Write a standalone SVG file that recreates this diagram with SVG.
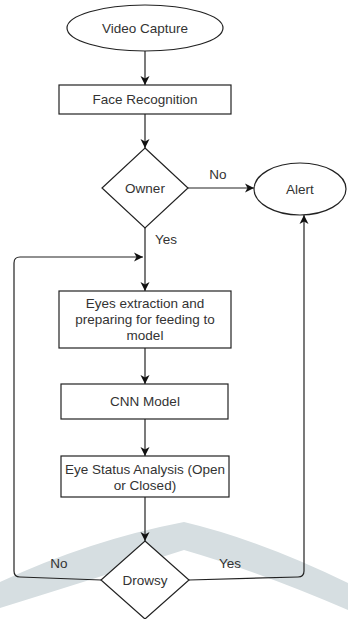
<svg xmlns="http://www.w3.org/2000/svg" width="348" height="619" viewBox="0 0 348 619">
  <defs>
    <marker id="arrow" markerWidth="10" markerHeight="10" refX="9" refY="5" orient="auto" markerUnits="userSpaceOnUse">
      <path d="M0,0.5 L9,5 L0,9.5 L2.5,5 Z" fill="#111"/>
    </marker>
    <style>
      .shape { fill: #ffffff; stroke: #222222; stroke-width: 1.2; }
      .edge { fill: none; stroke: #222222; stroke-width: 1.2; marker-end: url(#arrow); }
      text { font-family: "Liberation Sans", Arial, sans-serif; font-size: 13.5px; fill: #333333; text-anchor: middle; }
    </style>
  </defs>
  <rect width="348" height="619" fill="#ffffff"/>

  <!-- background band -->
  <path d="M0,582 Q90,540 184,522 Q260,540 348,583 L348,610 Q260,572 184,550 Q90,580 0,608 Z" fill="#d6dee1"/>

  <g id="connectors">
    <line class="edge" x1="145" y1="51" x2="145" y2="85"/>
    <line class="edge" x1="145" y1="114" x2="145" y2="148"/>
    <line class="edge" x1="188" y1="188" x2="254" y2="188"/>
    <line class="edge" x1="145" y1="228" x2="145" y2="291"/>
    <line class="edge" x1="145" y1="348" x2="145" y2="384"/>
    <line class="edge" x1="145" y1="419" x2="145" y2="456"/>
    <line class="edge" x1="145" y1="497" x2="145" y2="541"/>
    <path class="edge" d="M101,580 L20,577 Q14,577 14,571 L14,263 Q14,257 20,257 L143,257"/>
    <path class="edge" d="M189,580 L298,577 Q304,577 304,571 L304,215"/>
  </g>

  <g id="video-capture">
    <ellipse class="shape" cx="145" cy="28" rx="78" ry="23"/>
    <text x="145" y="33">Video Capture</text>
  </g>

  <g id="face-recognition">
    <rect class="shape" x="59" y="85" width="172" height="29"/>
    <text x="145" y="104">Face Recognition</text>
  </g>

  <g id="owner">
    <path class="shape" d="M145,148 L188,188 L145,228 L102,188 Z"/>
    <text x="145" y="193">Owner</text>
  </g>

  <g id="alert">
    <ellipse class="shape" cx="300" cy="189" rx="46" ry="26"/>
    <text x="300" y="194">Alert</text>
  </g>

  <g id="eyes-extraction">
    <rect class="shape" x="59" y="291" width="172" height="57"/>
    <text x="145" y="308">Eyes extraction and</text>
    <text x="145" y="324">preparing for feeding to</text>
    <text x="145" y="340">model</text>
  </g>

  <g id="cnn-model">
    <rect class="shape" x="61" y="384" width="167" height="35"/>
    <text x="145" y="406">CNN Model</text>
  </g>

  <g id="eye-status">
    <rect class="shape" x="61" y="456" width="168" height="41"/>
    <text x="145" y="474">Eye Status Analysis (Open</text>
    <text x="145" y="490">or Closed)</text>
  </g>

  <g id="drowsy">
    <path class="shape" d="M145,541 L189,580 L145,619 L101,580 Z"/>
    <text x="145" y="585">Drowsy</text>
  </g>

  <g id="labels">
    <text x="218" y="179">No</text>
    <text x="166" y="244">Yes</text>
    <text x="59" y="568">No</text>
    <text x="230" y="568">Yes</text>
  </g>
</svg>
